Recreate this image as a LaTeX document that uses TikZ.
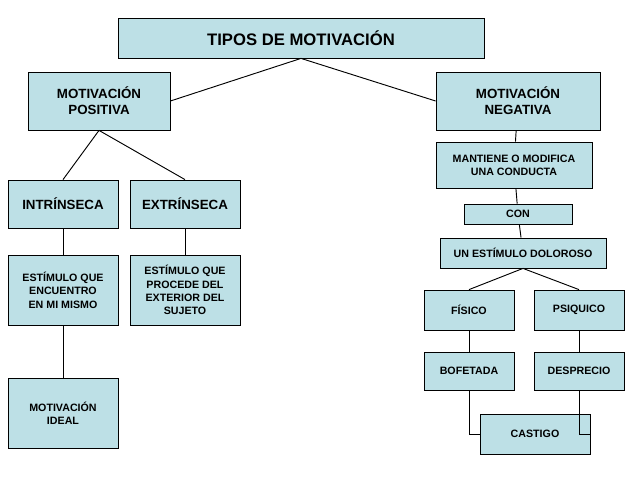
\documentclass[tikz,border=0pt]{standalone}
\usepackage{fontspec}
\setmainfont{Liberation Sans}
\begin{document}
\begin{tikzpicture}[x=0.75pt,y=-0.75pt,
  bx/.style={draw=black,fill=boxc,line width=0.6pt,align=center,font=\bfseries\fontsize{8}{10}\selectfont,inner sep=0pt},
  ln/.style={draw=black,line width=0.7pt}]
\definecolor{boxc}{HTML}{BDE0E6}
\useasboundingbox (0,0) rectangle (638,479);
\newcommand{\bxn}[6]{\node[bx,minimum width=#4*0.75pt-#2*0.75pt,minimum height=#5*0.75pt-#3*0.75pt,#6] (#1) at ({(#2+#4)/2},{(#3+#5)/2})}
\bxn{t}{118}{18}{484}{58}{font=\bfseries\fontsize{12.5}{14}\selectfont}{TIPOS DE MOTIVACIÓN};
\bxn{pos}{28}{72}{170}{130}{font=\bfseries\fontsize{10}{12}\selectfont}{MOTIVACIÓN\\POSITIVA};
\bxn{neg}{436}{72}{600}{130}{font=\bfseries\fontsize{10}{12}\selectfont}{MOTIVACIÓN\\NEGATIVA};
\bxn{in}{8}{180}{118}{228}{font=\bfseries\fontsize{10}{12}\selectfont}{INTRÍNSECA};
\bxn{ex}{130}{180}{240}{228}{font=\bfseries\fontsize{10}{12}\selectfont}{EXTRÍNSECA};
\bxn{e1}{8}{255}{118}{325}{}{ESTÍMULO QUE\\ENCUENTRO\\EN MI MISMO};
\bxn{e2}{130}{255}{240}{325}{}{ESTÍMULO QUE\\PROCEDE DEL\\EXTERIOR DEL\\SUJETO};
\bxn{id}{8}{378}{118}{448}{}{MOTIVACIÓN\\IDEAL};
\bxn{m}{436}{142}{592}{188}{}{MANTIENE O MODIFICA\\UNA CONDUCTA};
\bxn{c}{464}{204}{572}{224}{}{CON};
\bxn{d}{440}{238}{606}{268}{}{UN ESTÍMULO DOLOROSO};
\bxn{f}{424}{290}{514}{330}{}{FÍSICO};
\bxn{p}{534}{290}{624}{330}{}{PSIQUICO};
\bxn{b}{424}{352}{514}{390}{}{BOFETADA};
\bxn{de}{534}{352}{624}{390}{}{DESPRECIO};
\bxn{ca}{480}{414}{590}{454}{}{CASTIGO};
\begin{scope}[on background layer/.style={}]
\draw[ln] (t.south) -- (pos.east);
\draw[ln] (t.south) -- (neg.west);
\draw[ln] (pos.south) -- (in.north);
\draw[ln] (pos.south) -- (ex.north);
\draw[ln] (in) -- (e1);
\draw[ln] (e1) -- (id);
\draw[ln] (ex) -- (e2);
\draw[ln] (neg) -- (m);
\draw[ln] (m) -- (c);
\draw[ln] (c) -- (d);
\draw[ln] (d.south) -- (f.north);
\draw[ln] (d.south) -- (p.north);
\draw[ln] (f) -- (b);
\draw[ln] (p) -- (de);
\draw[ln] (b.south) |- (ca.west);
\draw[ln] (de.south) |- (ca.east);
\end{scope}
\end{tikzpicture}
\end{document}
